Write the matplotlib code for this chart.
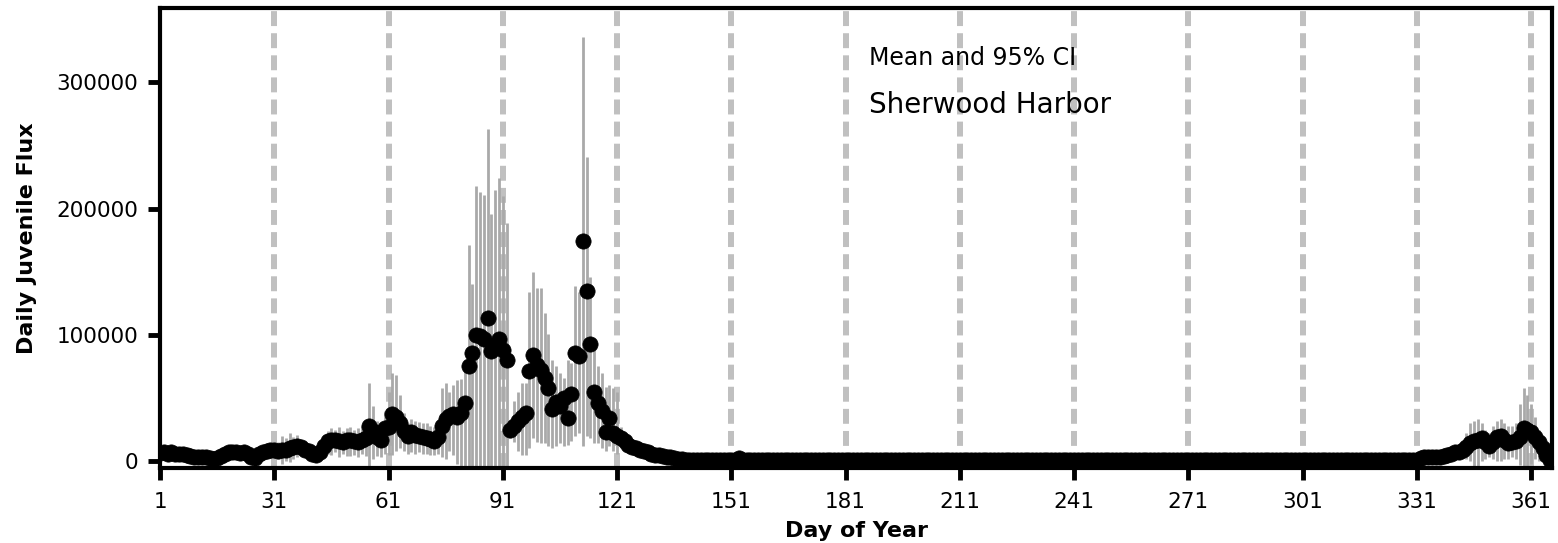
import matplotlib
matplotlib.use("Agg")
import matplotlib.pyplot as plt
import numpy as np

# daily mean flux, thousands, day 1..366
mean_k = [
    6.5, 7, 6, 7.5, 6, 5.5, 6, 4.5, 4, 3.5,
    3.5, 3, 3, 2.5, 2, 2.5, 4, 5.5, 7, 7.5,
    7, 6.5, 7.5, 6, 3.5, 2.5, 6, 7.5, 8, 8.5,
    8.5, 8, 8.5, 9, 10.5, 11, 12, 11.5, 9, 8,
    5.5, 4.5, 7, 12, 16, 17, 16.5, 16, 15.5, 16.5,
    17, 16, 15.5, 17, 18, 28, 24, 19, 17, 26,
    27, 37, 35, 30, 24, 20, 23, 21, 20, 19.5,
    18.5, 17.5, 16, 19, 28, 33, 36, 37, 35, 38,
    46, 75, 86, 100, 99, 97, 113, 87, 91, 97,
    88, 80, 25, 28, 32, 35, 38, 71, 84, 76,
    72, 66, 58, 41, 47, 44, 50, 34, 53, 86,
    83, 174, 135, 93, 55, 46, 40, 23, 34, 22,
    20, 18, 16, 13, 11.5, 10, 9, 8, 7, 6,
    5, 4.5, 4, 3.5, 3, 2.5, 2, 1.5, 1.2, 1,
    0.8, 0.8, 0.8, 0.8, 0.8, 0.8, 0.8, 0.8, 0.8, 0.8,
    0.8, 1.2, 2.5, 1.2, 0.8, 0.8, 0.8, 0.8, 0.8, 0.8,
    0.8, 0.8, 0.8, 0.8, 0.8, 0.8, 0.8, 0.8, 0.8, 0.8,
    0.8, 0.8, 0.8, 0.8, 0.8, 0.8, 0.8, 0.8, 0.8, 0.8,
    0.8, 0.8, 0.8, 0.8, 0.8, 0.8, 0.8, 0.8, 0.8, 0.8,
    0.8, 0.8, 0.8, 0.8, 0.8, 0.8, 0.8, 0.8, 0.8, 0.8,
    0.8, 0.8, 0.8, 0.8, 0.8, 0.8, 0.8, 0.8, 0.8, 0.8,
    0.8, 0.8, 0.8, 0.8, 0.8, 0.8, 0.8, 0.8, 0.8, 0.8,
    0.8, 0.8, 0.8, 0.8, 0.8, 0.8, 0.8, 0.8, 0.8, 0.8,
    0.8, 0.8, 0.8, 0.8, 0.8, 0.8, 0.8, 0.8, 0.8, 0.8,
    0.8, 0.8, 0.8, 0.8, 0.8, 0.8, 0.8, 0.8, 0.8, 0.8,
    0.8, 0.8, 0.8, 0.8, 0.8, 0.8, 0.8, 0.8, 0.8, 0.8,
    0.8, 0.8, 0.8, 0.8, 0.8, 0.8, 0.8, 0.8, 0.8, 0.8,
    0.8, 0.8, 0.8, 0.8, 0.8, 0.8, 0.8, 0.8, 0.8, 0.8,
    0.8, 0.8, 0.8, 0.8, 0.8, 0.8, 0.8, 0.8, 0.8, 0.8,
    0.8, 0.8, 0.8, 0.8, 0.8, 0.8, 0.8, 0.8, 0.8, 0.8,
    0.8, 0.8, 0.8, 0.8, 0.8, 0.8, 0.8, 0.8, 0.8, 0.8,
    0.8, 0.8, 0.8, 0.8, 0.8, 0.8, 0.8, 0.8, 0.8, 0.8,
    0.8, 0.8, 0.8, 0.8, 0.8, 0.8, 0.8, 0.8, 0.8, 0.8,
    1, 2.5, 3, 3, 3, 3, 3.5, 4, 5, 6,
    7, 7.5, 9, 11, 14, 16, 17, 18, 15, 12,
    15, 19, 20, 17, 14, 15, 16, 19, 26, 25,
    23, 19, 15, 10, 5, 1,
]
days = np.arange(1, len(mean_k) + 1)

# 95% CI (thousands) where bars are visible: days 31-130 and 340-366
ci_days = list(range(31, 131)) + list(range(340, 367))
ci_hi_k = [
    12, 15, 20, 18, 22, 19, 21, 17, 16, 13,
    9, 8, 13, 21, 24, 26, 25, 27, 24, 26,
    27, 25, 26, 28, 30, 62, 44, 32, 28, 40,
    55, 70, 68, 52, 38, 30, 33, 32, 31, 30,
    30, 28, 27, 30, 58, 62, 55, 60, 64, 65,
    80, 171, 140, 218, 213, 211, 263, 196, 215, 224,
    210, 189, 30, 48, 55, 62, 62, 134, 150, 137,
    137, 117, 101, 80, 75, 70, 66, 80, 78, 139,
    134, 336, 241, 146, 88, 75, 70, 59, 60, 58,
    55, 27, 20, 16, 14, 12, 11, 10, 9, 8,
    8, 10, 12, 15, 22, 30, 32, 33, 30, 25,
    22, 28, 32, 33, 30, 28, 28, 30, 45, 58,
    52, 45, 35, 25, 15, 8, 3,
]
ci_lo_k = [
    4, 2, -2, 0, -1, 2, 3, 5, 3, 4,
    2, 1, 1, 4, 6, 5, 7, 3, 6, 4,
    4, 5, 3, 6, 4, -10, 2, 4, 3, 6,
    5, 5, 8, 10, 8, 6, 7, 6, 7, 6,
    6, 5, 5, 6, 3, 2, 8, 5, -2, -5,
    -10, -20, -20, -20, -20, -20, -20, -20, -20, -20,
    -20, -20, 18, 15, 8, 5, 5, 10, 18, 15,
    14, 14, 12, 10, 12, 14, 12, 13, 16, 20,
    22, 12, 20, 18, 14, 14, 10, 8, 12, 8,
    6, 10, 10, 9, 8, 7, 6, 5, 4, 3,
    3, 3, 3, 3, 2, 0, -4, -4, 0, 2,
    3, 2, 0, 0, 2, 2, 3, 2, -3, -5,
    -5, -2, 2, 0, 0, 0, 0,
]

month_days = [1, 31, 61, 91, 121, 151, 181, 211, 241, 271, 301, 331, 361]
y_ticks = [0, 100000, 200000, 300000]

mean = np.array(mean_k) * 1000
ci_hi = np.array(ci_hi_k) * 1000
ci_lo = np.array(ci_lo_k) * 1000

plt.rcParams['font.family'] = ['DejaVu Sans']

fig = plt.figure(figsize=(15.58, 5.43), dpi=100)
ax = fig.add_axes([0.1027, 0.138, 0.8935, 0.847])

for d in month_days[1:]:
    ax.axvline(d, color='#c0c0c0', lw=4.3, dashes=(2.5, 1.2), zorder=1)

ax.vlines(ci_days, ci_lo, ci_hi, color='#a9a9a9', lw=2.0, zorder=2)
ax.plot(days, mean, 'o', color='black', markersize=11,
        markeredgecolor='black', markeredgewidth=0.5, zorder=3)

ax.set_xlim(1, 366.5)
ax.set_ylim(-5500, 358800)
ax.set_xticks(month_days)
ax.set_yticks(y_ticks)
ax.set_yticklabels([str(v) for v in y_ticks])

for s in ax.spines.values():
    s.set_linewidth(3)
ax.tick_params(axis='both', direction='out', length=8.5, width=3.5, labelsize=15.5)
ax.tick_params(axis='x', pad=9)
ax.tick_params(axis='y', pad=7)

ax.set_xlabel('Day of Year', fontsize=16, fontweight='bold', labelpad=6)
ax.set_ylabel('Daily Juvenile Flux', fontsize=16, fontweight='bold', labelpad=14)

ax.text(0.509, 0.892, 'Mean and 95% CI', transform=ax.transAxes, fontsize=17, va='center')
ax.text(0.509, 0.790, 'Sherwood Harbor', transform=ax.transAxes, fontsize=20, va='center')

fig.savefig('out.png', dpi=100)
